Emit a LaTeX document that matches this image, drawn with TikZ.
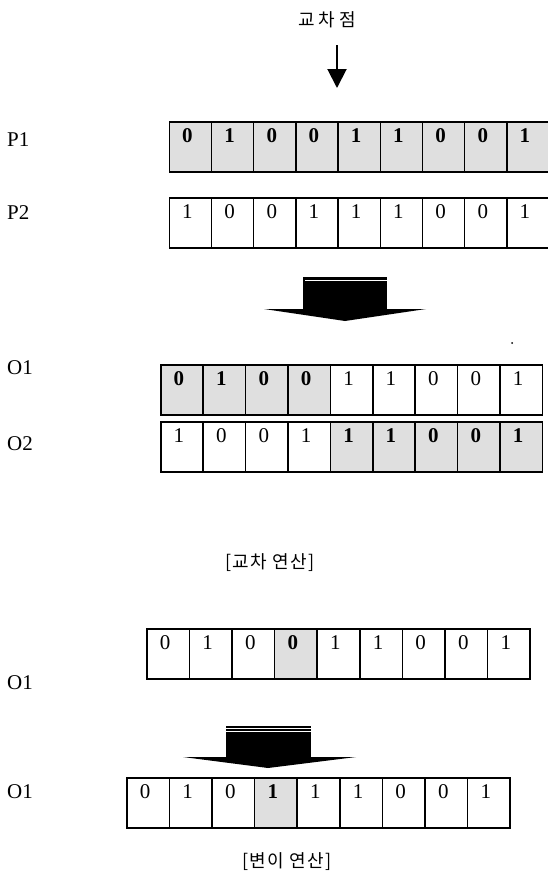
\documentclass[tikz,border=0pt]{standalone}
\usepackage{fontspec}
\setmainfont{Liberation Serif}
\newfontfamily\kor{Noto Sans CJK KR}
\usetikzlibrary{arrows.meta}

\tikzset{
  cell/.style={draw, line width=1.5pt, anchor=north west,
    minimum width=42.2pt, inner xsep=0pt, inner ysep=0pt,
    text height=21pt, text depth=29pt,
    font=\fontsize{21}{21}\selectfont},
  plain/.style={cell},
  hot/.style={cell, fill=gray!25, font=\fontsize{21}{21}\selectfont\bfseries},
  tag/.style={anchor=west, inner sep=0pt, font=\fontsize{21}{21}\selectfont},
  kcap/.style={inner sep=0pt, font=\kor\fontsize{18}{18}\selectfont\addfontfeature{LetterSpace=8}},
  bigarrow/.style={fill=black},
}
% digit set a little left of the cell centre
\newcommand\dig[1]{\kern-6pt#1}

\begin{document}
\begin{tikzpicture}[x=1pt,y=-1pt]
\useasboundingbox (0,0) rectangle (547,881);

% crossover point marker
\node[inner sep=0pt, font=\kor\fontsize{18}{18}\selectfont\addfontfeature{LetterSpace=22}] (title) at (327,20) {교차점};
\coordinate (xtop) at (337,45);
\coordinate (xpt) at (337,88);
\draw[line width=2pt, -{Triangle[width=19pt,length=19pt]}] (xtop) -- (xpt);

% parents
\node[tag] (lp1) at (7,140) {P1};
\node[tag] (lp2) at (7,213) {P2};
\foreach \d/\s [count=\i from 0] in {0/hot,1/hot,0/hot,0/hot,1/hot,1/hot,0/hot,0/hot,1/hot}
  \node[\s] (p1-\i) at ({168.5+\i*42.2},121) {\dig{\d}};
\foreach \d/\s [count=\i from 0] in {1/plain,0/plain,0/plain,1/plain,1/plain,1/plain,0/plain,0/plain,1/plain}
  \node[\s] (p2-\i) at ({168.5+\i*42.2},197) {\dig{\d}};

% crossover arrow
\fill[bigarrow] (303,277) rectangle (387,310);
\fill[bigarrow] (264,309) -- (426,309) -- (345,321) -- cycle;
\draw[white, line width=0.8pt] (305,280.5) -- (387,280.5);

\fill (512,343) circle (1pt);

% offspring
\node[tag] (lo1) at (7,368) {O1};
\node[tag] (lo2) at (7,444) {O2};
\foreach \d/\s [count=\i from 0] in {0/hot,1/hot,0/hot,0/hot,1/plain,1/plain,0/plain,0/plain,1/plain}
  \node[\s, minimum width=42.4pt] (o1-\i) at ({160+\i*42.4},364) {\dig{\d}};
\foreach \d/\s [count=\i from 0] in {1/plain,0/plain,0/plain,1/plain,1/hot,1/hot,0/hot,0/hot,1/hot}
  \node[\s, minimum width=42.4pt] (o2-\i) at ({160+\i*42.4},421) {\dig{\d}};

\node[kcap] (cap1) at (270,563) {[교차 연산]};

% mutation
\node[tag] (lm1) at (7,683) {O1};
\foreach \d/\s [count=\i from 0] in {0/plain,1/plain,0/plain,0/hot,1/plain,1/plain,0/plain,0/plain,1/plain}
  \node[\s, minimum width=42.6pt] (m1-\i) at ({146+\i*42.6},628) {\dig{\d}};

\fill[bigarrow] (226,726) rectangle (311,758);
\fill[bigarrow] (183,757) -- (356,757) -- (268,768) -- cycle;
\draw[white, line width=0.7pt] (226,728.5) -- (311,728.5);
\draw[white, line width=0.7pt] (226,731) -- (311,731);

\node[tag] (lm2) at (7,792) {O1};
\foreach \d/\s [count=\i from 0] in {0/plain,1/plain,0/plain,1/hot,1/plain,1/plain,0/plain,0/plain,1/plain}
  \node[\s, minimum width=42.6pt] (m2-\i) at ({126+\i*42.6},777) {\dig{\d}};

\node[kcap] (cap2) at (287,862) {[변이 연산]};
\end{tikzpicture}
\end{document}
